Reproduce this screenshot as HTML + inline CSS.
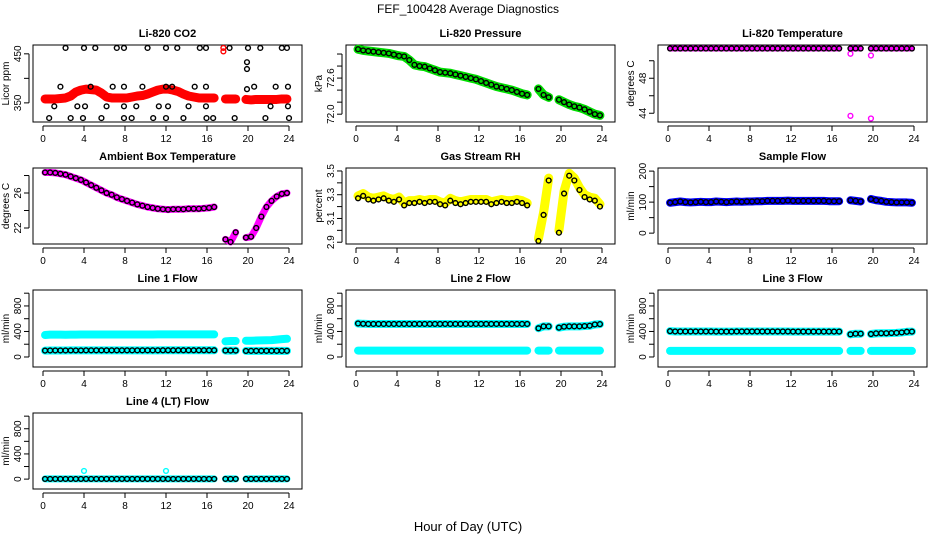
<!DOCTYPE html>
<html><head><meta charset="utf-8">
<style>
html,body{margin:0;padding:0;background:#fff;}
svg{display:block;font-family:"Liberation Sans",Arial,sans-serif;}
</style></head>
<body>
<svg id="chart" width="936" height="540" viewBox="0 0 936 540" xmlns="http://www.w3.org/2000/svg">
<text x="468" y="13" text-anchor="middle" font-size="12">FEF_100428  Average Diagnostics</text>
<text x="468" y="531" text-anchor="middle" font-size="13">Hour of Day (UTC)</text>
</svg>
<script>
const hours = [0.2,0.7,1.2,1.7,2.2,2.7,3.2,3.7,4.2,4.7,5.2,5.7,6.2,6.7,7.2,7.7,8.2,8.7,9.2,9.7,10.2,10.7,11.2,11.7,12.2,12.7,13.2,13.7,14.2,14.7,15.2,15.7,16.2,16.7,17.8,18.3,18.8,19.8,20.3,20.8,21.3,21.8,22.3,22.8,23.3,23.8];
const xTicks = [0,4,8,12,16,20,24];

const co2Red = [358,358,358,359,360,364,372,376,378,377,376,370,362,360,360,360,360,362,364,365,368,372,376,378,378,376,373,368,364,362,360,360,360,360,358,358,358,357,356,357,357,357,357,357,358,358];
const co2BlackHours = [2.2,4.0,5.1,7.2,7.9,10.2,12.0,13.1,15.3,15.9,18.2,20.0,21.2,23.3,23.8,1.7,4.65,6.8,7.9,9.7,12.0,12.6,14.8,15.9,19.9,20.6,22.7,23.9,1.1,3.35,4.1,6.2,7.9,9.1,11.3,12.2,14.2,15.9,22.2,23.9,0.6,2.7,3.9,5.7,7.9,8.65,10.75,12.0,13.7,15.95,16.6,18.7,21.7,24.0,19.9,19.9];
const co2BlackValues = [462,462,462,462,462,462,462,462,462,462,462,462,462,462,462,383,383,383,383,383,383,383,383,383,378,383,383,383,343,343,343,343,343,343,343,343,343,343,343,343,319,319,319,319,319,319,319,319,319,319,319,319,319,319,433,419];

const pressure = [73.08,73.06,73.05,73.04,73.03,73.02,73.01,72.99,72.97,72.96,72.90,72.82,72.80,72.79,72.76,72.73,72.70,72.69,72.68,72.66,72.64,72.62,72.60,72.58,72.55,72.52,72.49,72.46,72.44,72.42,72.40,72.37,72.34,72.32,72.42,72.32,72.28,72.24,72.20,72.16,72.13,72.11,72.08,72.04,72.00,71.98];
const licorTemp = [51.4,51.4,51.4,51.4,51.4,51.4,51.4,51.4,51.4,51.4,51.4,51.4,51.4,51.4,51.4,51.4,51.4,51.4,51.4,51.4,51.4,51.4,51.4,51.4,51.4,51.4,51.4,51.4,51.4,51.4,51.4,51.4,51.4,51.4,51.4,51.4,51.4,51.4,51.4,51.4,51.4,51.4,51.4,51.4,51.4,51.4];
const licorTempOutHours = [17.8,17.8,19.8,19.8];
const licorTempOutValues = [50.8,43.7,50.6,43.4];
const ambient = [28.35,28.35,28.3,28.2,28.1,27.9,27.7,27.5,27.2,26.9,26.6,26.3,26.0,25.8,25.5,25.3,25.1,24.9,24.7,24.55,24.4,24.3,24.2,24.15,24.1,24.15,24.15,24.15,24.2,24.2,24.2,24.25,24.3,24.4,20.7,20.4,21.5,20.9,21.0,22.0,23.3,24.4,25.1,25.6,25.9,26.0];
const rh = [3.29,3.31,3.28,3.27,3.28,3.29,3.27,3.26,3.28,3.23,3.25,3.25,3.26,3.25,3.26,3.26,3.24,3.23,3.27,3.25,3.24,3.25,3.26,3.26,3.26,3.26,3.24,3.25,3.26,3.25,3.25,3.26,3.25,3.23,2.93,3.15,3.44,3.0,3.33,3.48,3.44,3.36,3.30,3.28,3.27,3.22];
const sampleFlow = [98,100,102,100,99,100,101,100,100,102,101,100,101,102,101,102,102,103,103,104,104,104,104,105,104,104,104,104,104,104,104,103,103,103,106,104,102,110,106,104,101,100,99,99,99,98];
const line1Upper = [345,350,350,350,348,350,350,352,352,352,352,352,353,353,353,353,353,353,353,353,353,353,354,354,354,354,354,354,354,354,354,354,354,354,245,250,250,255,255,258,260,262,265,272,280,285];
const line1Lower = [100,102,102,102,102,103,103,103,104,104,104,104,104,104,104,104,104,104,104,104,104,104,104,105,105,105,105,105,105,105,105,105,105,105,100,100,100,95,96,96,96,96,96,96,96,96];
const line2Upper = [525,520,518,518,518,518,518,518,518,518,518,518,518,518,518,518,518,518,518,518,518,518,518,518,518,518,518,518,518,518,518,518,518,518,450,480,480,460,475,480,480,480,485,490,510,515];
const line2Lower = [100,100,100,100,100,100,100,100,100,100,100,100,100,100,100,100,100,100,100,100,100,100,100,100,100,100,100,100,100,100,100,100,100,100,100,100,100,100,100,100,100,100,100,100,100,100];
const line3Upper = [405,400,400,400,400,400,400,400,400,398,398,398,398,400,400,400,400,400,400,400,400,400,400,400,398,398,398,398,398,398,398,398,398,398,355,365,365,360,370,372,372,375,378,385,395,398];
const line3Lower = [95,95,95,95,95,95,95,95,95,95,95,95,95,95,95,95,95,95,95,95,95,95,95,95,95,95,95,95,95,95,95,95,95,95,95,95,95,95,95,95,95,95,95,95,95,95];
const line4 = [3,3,3,3,3,3,3,3,3,3,3,3,3,3,3,3,3,3,3,3,3,3,3,3,3,3,3,3,3,3,3,3,3,3,3,3,3,3,3,3,3,3,3,3,3,3];
const line4OutHours = [4.0,12.0];
const line4OutValues = [130,130];

const NS = "http://www.w3.org/2000/svg";
const svg = document.getElementById('chart');
function mk(tag, attrs, parent){ const e=document.createElementNS(NS,tag); for(const k in attrs) e.setAttribute(k,attrs[k]); (parent||svg).appendChild(e); return e; }

const colLeft = [33,346,658], rowTop = [45,168,290,413], rowBot = [122,244,367,489], W = 269;

function panel(cfg){
  const L = colLeft[cfg.col], T = rowTop[cfg.row], B = rowBot[cfg.row];
  const g = mk('g',{});
  
  
  const xs = h => L+10+h*246/24;
  const ys = v => B-(v-cfg.ymin)/(cfg.ymax-cfg.ymin)*(B-T);
  const fr = mk('rect',{x:L,y:T,width:W,height:B-T,fill:'none',stroke:'#000','stroke-width':1},g);
   
  const t = mk('text',{x:L+W/2,y:T-8,'text-anchor':'middle','font-size':11,'font-weight':'bold'},g);
  t.textContent = cfg.title;
   
  const xa = mk('g',{},g);
   
  mk('line',{x1:xs(0),x2:xs(24),y1:B+4,y2:B+4,stroke:'#000'},xa);
  xTicks.forEach(v=>{
    mk('line',{x1:xs(v),x2:xs(v),y1:B+4,y2:B+9,stroke:'#000'},xa);
    const tl = mk('text',{x:xs(v),y:B+20,'text-anchor':'middle','font-size':10},xa);
    tl.textContent = v;
     
  });
  const ya = mk('g',{},g);
   
  const t0 = cfg.yticks[0], t1 = cfg.yticks[cfg.yticks.length-1];
  mk('line',{x1:L-4,x2:L-4,y1:ys(t0),y2:ys(t1),stroke:'#000'},ya);
  cfg.yticks.forEach(v=>{
    mk('line',{x1:L-4,x2:L-9,y1:ys(v),y2:ys(v),stroke:'#000'},ya);
  });
  cfg.ylabels.forEach(v=>{
    const yl = mk('text',{x:0,y:0,'text-anchor':'middle','font-size':10,transform:`translate(${L-12},${ys(v)}) rotate(-90)`},ya);
    yl.textContent = v;
     
  });
  const yt = mk('text',{x:0,y:0,'text-anchor':'middle','font-size':10,transform:`translate(${L-24},${(T+B)/2}) rotate(-90)`},g);
  yt.textContent = cfg.ylab;
   
  cfg.series.forEach(s=>{
    const hs = s.hours || hours;
    if(s.band){
      let seg=[];
      const segs=[];
      hs.forEach((h,i)=>{ if(seg.length && h-hs[i-1]>0.8){segs.push(seg);seg=[];} seg.push([xs(h),ys(s.values[i])]); });
      segs.push(seg);
      segs.forEach(sg=>{
        const p = mk('polyline',{points:sg.map(q=>q.join(',')).join(' '),fill:'none',stroke:s.color,'stroke-width':s.w||6,'stroke-linecap':'round','stroke-linejoin':'round'},g);
        
        
      });
    }
    if(s.points){
      hs.forEach((h,i)=>{
        const c = mk('circle',{cx:xs(h),cy:ys(s.values[i]),r:2.4,fill:'none',stroke:s.color,'stroke-width':1.4},g);
        
        
      });
    }
  });
}

panel({name:'co2-panel',col:0,row:0,title:'Li-820 CO2',ylab:'Licor ppm',ymin:311,ymax:468,yticks:[350,400,450],ylabels:[350,450],
  series:[{name:'co2-red',values:co2Red,color:'#ff0000',band:true,w:9},
          {name:'co2-red-out',hours:[17.6,17.6],values:[455,462],color:'#ff0000',points:true},
          {name:'co2-black',hours:co2BlackHours,values:co2BlackValues,color:'#000',points:true}]});
panel({name:'pressure-panel',col:1,row:0,title:'Li-820 Pressure',ylab:'kPa',ymin:71.87,ymax:73.15,yticks:[72.0,72.2,72.4,72.6,72.8,73.0],ylabels:['72.0','72.6'],
  series:[{name:'pressure-green',values:pressure,color:'#00dd00',band:true,w:9},
          {name:'pressure-black',values:pressure,color:'#000',points:true}]});
panel({name:'licor-temp-panel',col:2,row:0,title:'Li-820 Temperature',ylab:'degrees C',ymin:43.0,ymax:51.8,yticks:[44,46,48,50],ylabels:[44,48],
  series:[{name:'temp-magenta',values:licorTemp,color:'#ff00ff',band:true,w:6},
          {name:'temp-out',hours:licorTempOutHours,values:licorTempOutValues,color:'#ff00ff',points:true},
          {name:'temp-black',values:licorTemp,color:'#000',points:true}]});
panel({name:'ambient-panel',col:0,row:1,title:'Ambient Box Temperature',ylab:'degrees C',ymin:20.17,ymax:28.86,yticks:[22,24,26,28],ylabels:[22,26],
  series:[{name:'ambient-magenta',values:ambient,color:'#ff00ff',band:true,w:7},
          {name:'ambient-black',values:ambient,color:'#000',points:true}]});
panel({name:'rh-panel',col:1,row:1,title:'Gas Stream RH',ylab:'percent',ymin:2.885,ymax:3.525,yticks:[2.9,3.0,3.1,3.2,3.3,3.4,3.5],ylabels:['2.9','3.1','3.3','3.5'],
  series:[{name:'rh-yellow',values:rh,color:'#ffff00',band:true,w:9},
          {name:'rh-black',values:rh.map(v=>v-0.02),color:'#000',points:true}]});
panel({name:'sample-flow-panel',col:2,row:1,title:'Sample Flow',ylab:'ml/min',ymin:-35,ymax:210,yticks:[0,50,100,150,200],ylabels:[0,100,200],
  series:[{name:'sample-blue',values:sampleFlow,color:'#0000ff',band:true,w:8},
          {name:'sample-black',values:sampleFlow,color:'#000',points:true}]});
const flowTicks=[0,200,400,600,800,1000], flowLabels=[0,400,800];
panel({name:'line1-panel',col:0,row:2,title:'Line 1 Flow',ylab:'ml/min',ymin:-157,ymax:1050,yticks:flowTicks,ylabels:flowLabels,
  series:[{name:'line1-upper',values:line1Upper,color:'#00ffff',band:true,w:8},
          {name:'line1-lower',values:line1Lower,color:'#00ffff',band:true,w:8},
          {name:'line1-black',values:line1Lower,color:'#000',points:true}]});
panel({name:'line2-panel',col:1,row:2,title:'Line 2 Flow',ylab:'ml/min',ymin:-157,ymax:1050,yticks:flowTicks,ylabels:flowLabels,
  series:[{name:'line2-upper',values:line2Upper,color:'#00ffff',band:true,w:8},
          {name:'line2-lower',values:line2Lower,color:'#00ffff',band:true,w:8},
          {name:'line2-black',values:line2Upper,color:'#000',points:true}]});
panel({name:'line3-panel',col:2,row:2,title:'Line 3 Flow',ylab:'ml/min',ymin:-157,ymax:1050,yticks:flowTicks,ylabels:flowLabels,
  series:[{name:'line3-upper',values:line3Upper,color:'#00ffff',band:true,w:8},
          {name:'line3-lower',values:line3Lower,color:'#00ffff',band:true,w:8},
          {name:'line3-black',values:line3Upper,color:'#000',points:true}]});
panel({name:'line4-panel',col:0,row:3,title:'Line 4 (LT) Flow',ylab:'ml/min',ymin:-157,ymax:1050,yticks:flowTicks,ylabels:flowLabels,
  series:[{name:'line4-cyan',values:line4,color:'#00ffff',band:true,w:7},
          {name:'line4-out',hours:line4OutHours,values:line4OutValues,color:'#00ffff',points:true},
          {name:'line4-black',values:line4,color:'#000',points:true}]});
</script>
</body></html>
